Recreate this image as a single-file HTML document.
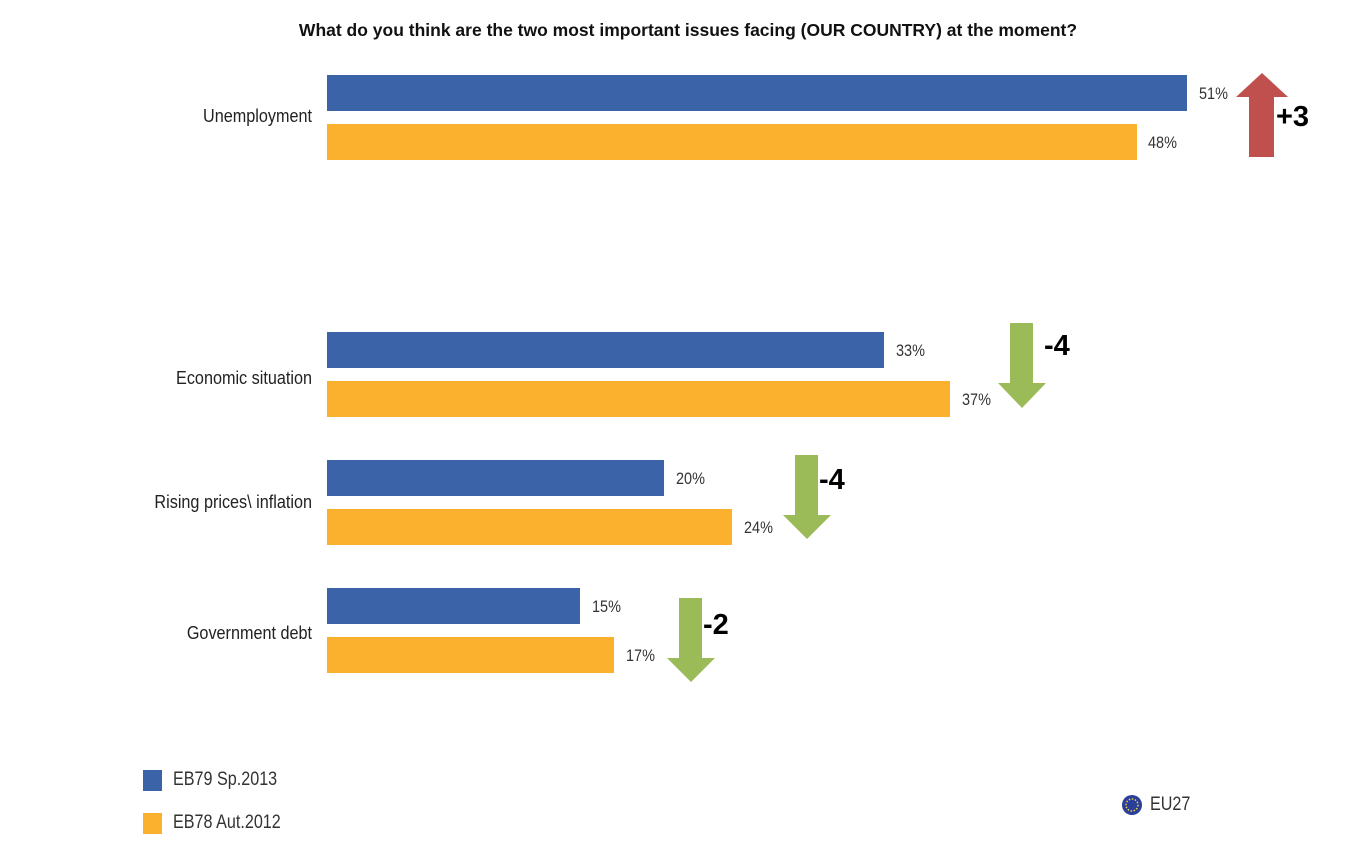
<!DOCTYPE html>
<html><head><style>
body{margin:0;width:1370px;height:860px;background:#fff;position:relative;font-family:"Liberation Sans",sans-serif;overflow:hidden}
.b{position:absolute;left:327px;height:36px}
.bl{background:#3a63a8}.or{background:#fbb12d}
.t{position:absolute;font-size:17px;color:#333;transform:scaleX(0.85);transform-origin:left}
.c{position:absolute;font-size:18px;color:#222;text-align:right;width:300px;transform:scaleX(0.9);transform-origin:right}
.n{position:absolute;font-size:29px;font-weight:bold;color:#000;font-family:"Liberation Sans",sans-serif}
</style></head><body>
<div style="position:absolute;top:20px;left:0;width:1376px;text-align:center;font-weight:bold;font-size:17.5px;color:#111;">What do you think are the two most important issues facing (OUR COUNTRY) at the moment?</div>

<div class="c" style="left:12px;top:106px">Unemployment</div>
<div class="c" style="left:12px;top:368px">Economic situation</div>
<div class="c" style="left:12px;top:492px">Rising prices\ inflation</div>
<div class="c" style="left:12px;top:623px">Government debt</div>

<div class="b bl" style="top:75px;width:860px"></div>
<div class="b or" style="top:124px;width:810px"></div>
<div class="b bl" style="top:332px;width:557px"></div>
<div class="b or" style="top:381px;width:623px"></div>
<div class="b bl" style="top:460px;width:337px"></div>
<div class="b or" style="top:509px;width:405px"></div>
<div class="b bl" style="top:588px;width:253px"></div>
<div class="b or" style="top:637px;width:287px"></div>

<div class="t" style="left:1199px;top:84px">51%</div>
<div class="t" style="left:1148px;top:133px">48%</div>
<div class="t" style="left:896px;top:341px">33%</div>
<div class="t" style="left:962px;top:390px">37%</div>
<div class="t" style="left:676px;top:469px">20%</div>
<div class="t" style="left:744px;top:518px">24%</div>
<div class="t" style="left:592px;top:597px">15%</div>
<div class="t" style="left:626px;top:646px">17%</div>

<svg style="position:absolute;left:0;top:0" width="1370" height="860">
<polygon points="1262,73 1288,97 1274,97 1274,157 1249,157 1249,97 1236,97" fill="#c0504d"/>
<polygon points="1010,323 1033,323 1033,383 1046,383 1022,408 998,383 1010,383" fill="#9bbb59"/>
<polygon points="795,455 818,455 818,515 831,515 807,539 783,515 795,515" fill="#9bbb59"/>
<polygon points="679,598 702,598 702,658 715,658 691,682 667,658 679,658" fill="#9bbb59"/>
<circle cx="1132" cy="805" r="10" fill="#2b3f9a"/>
<circle cx="1132" cy="805" r="6" fill="none" stroke="#e8d23a" stroke-width="1.5" stroke-dasharray="1.5 1.6"/>
</svg>
<div class="n" style="left:1276px;top:101px">+3</div>
<div class="n" style="left:1044px;top:330px">-4</div>
<div class="n" style="left:819px;top:464px">-4</div>
<div class="n" style="left:703px;top:609px">-2</div>

<div style="position:absolute;left:143px;top:770px;width:19px;height:21px;background:#3a63a8"></div>
<div style="position:absolute;left:143px;top:813px;width:19px;height:21px;background:#fbb12d"></div>
<div class="t" style="left:173px;top:769px;font-size:19px">EB79 Sp.2013</div>
<div class="t" style="left:173px;top:812px;font-size:19px">EB78 Aut.2012</div>
<div class="t" style="left:1150px;top:794px;font-size:19px">EU27</div>
</body></html>
